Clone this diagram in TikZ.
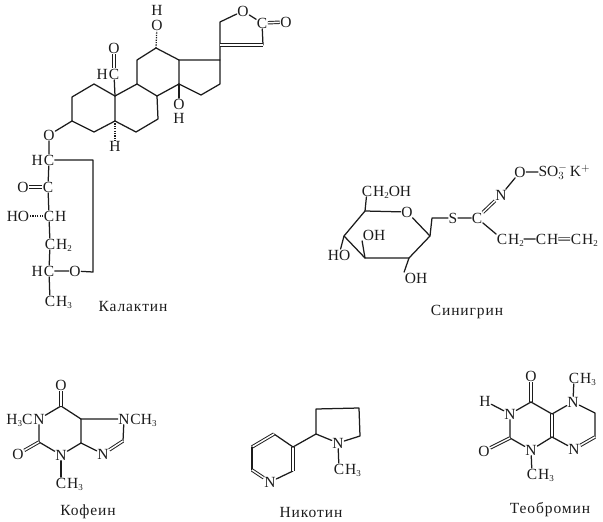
\documentclass[tikz,border=0pt]{standalone}
\usepackage{fontspec}
\setmainfont{Liberation Serif}
\newcommand{\low}[1]{\raisebox{-0.3ex}[0pt][0pt]{\fontsize{9}{9}\selectfont #1}}
\tikzset{
  bond/.style={draw=ink,line width=1.25pt,line join=round,line cap=round},
  dbl/.style={draw=ink,line width=.95pt,double=white,double distance=1.5pt},
  hash/.style={draw=ink,line width=1.3pt,dash pattern=on 1.2pt off 1.2pt},
  atom/.style={text=ink,inner sep=.5pt,font=\fontsize{15.5}{16}\selectfont},
  tail/.style={atom,anchor=base west,inner xsep=0pt},
  head/.style={atom,anchor=base east,inner xsep=0pt},
  caption/.style={text=ink,inner sep=0pt,font=\fontsize{15.5}{16}\selectfont\addfontfeatures{LetterSpace=6}}
}
\definecolor{ink}{HTML}{1C1C1C}
\begin{document}
\begin{tikzpicture}[x=1pt,y=-1pt]
\useasboundingbox (0,0) rectangle (603,522);
%% ---------- Kalaktin
\foreach \n/\x/\y in {a1/72/97,a2/94/84,c10/115/96,c5/115/121,a3/94/132,c3/72/121,
 c9/137/84,c8/157/96,c7/158/119,c6/136/132,c11/137/60,c12/156/48,c13/179/60,c14/179/84,
 c17/220/60,c16/220/84,c15/201/95,l1/220/45,l2/220/22,l3/263/45,cr/93/160,cs/93/272}
 {\coordinate (\n) at (\x,\y);}
\node[atom] (lo) at (243,11) {O};
\node[atom] (lc) at (262,23) {C};
\node[atom] (lox) at (286,22) {O};
\node[atom] (oh1) at (157,25) {O};
\node[atom] (h1) at (157,10.5) {H};
\node[atom] (cho) at (114,74) {C};
\node[head] (chh) at (cho.base west) {H};
\node[atom] (choo) at (114,48) {O};
\node[atom] (oh2) at (179,104) {O};
\node[atom] (h2) at (179,118.5) {H};
\node[atom] (h5) at (115,146) {H};
\node[atom] (o3) at (49,135) {O};
\node[atom] (s1) at (49,160) {C};
\node[head] (s1h) at (s1.base west) {H};
\node[atom] (s2) at (48,187) {C};
\node[atom] (s2o) at (23,187) {O};
\node[atom] (s3) at (49,216) {C};
\node[tail] (s3h) at (s3.base east) {H};
\node[atom] (s3o) at (18,216) {HO};
\node[atom] (s4) at (50,244) {C};
\node[tail] (s4h) at (s4.base east) {H\low{2}};
\node[atom] (s5) at (49,271) {C};
\node[head] (s5h) at (s5.base west) {H};
\node[atom] (s5o) at (75,271) {O};
\node[atom] (s6) at (50,301) {C};
\node[tail] (s6h) at (s6.base east) {H\low{3}};
\node[caption] (kal) at (133,306) {Калактин};
\draw[bond] (a1)--(a2)--(c10)--(c5)--(a3)--(c3)--cycle;
\draw[bond] (c10)--(c9)--(c8)--(c7)--(c6)--(c5);
\draw[bond] (c9)--(c11)--(c12)--(c13)--(c14)--(c8);
\draw[bond] (c13)--(c17)--(c16)--(c15)--(c14);
\draw[bond] (c17)--(l1)--(l2)--(lo)--(lc)--(l3);
\draw[dbl] (l1)--(l3);
\draw[dbl] (lc)--(lox);
\draw[hash] (c12)--(oh1);
\draw[bond] (c10)--(cho);
\draw[dbl] (cho)--(choo);
\draw[bond] (c14)--(oh2);
\draw[hash] (c5)--(h5);
\draw[bond] (c3)--(o3)--(s1)--(s2)--(s3)--(s4)--(s5)--(s6);
\draw[dbl] (s2)--(s2o);
\draw[hash] (s3)--(s3o);
\draw[bond] (s5)--(s5o)--(cs)--(cr)--(s1);
%% ---------- Sinigrin
\foreach \n/\x/\y in {g5/365/211,g1/430/236,g2/409/258,g3/365/258,g4/344/236,g6/432/218}
 {\coordinate (\n) at (\x,\y);}
\node[atom] (go) at (407,212) {O};
\node[atom] (g7) at (367,191) {C};
\node[tail] (g7t) at (g7.base east) {H\low{2}OH};
\node[atom] (goh3) at (374,235) {OH};
\node[atom] (goh4) at (339,255) {HO};
\node[atom] (goh2) at (416,278) {OH};
\node[atom] (gs) at (453,218) {S};
\node[atom] (gc) at (477,218) {C};
\node[atom] (gn) at (501,195) {N};
\node[atom] (go2) at (520,172) {O};
\node[atom] (gso) at (553,172) {SO$_{3}^{-}$};
\node[atom] (gk) at (580,171) {K$^{+}$};
\node[atom] (ga1) at (502,239) {C};
\node[tail] (ga1t) at (ga1.base east) {H\low{2}};
\node[atom] (ga2) at (541,239) {C};
\node[tail] (ga2t) at (ga2.base east) {H};
\node[atom] (ga3) at (576,239) {C};
\node[tail] (ga3t) at (ga3.base east) {H\low{2}};
\node[caption] (sin) at (467,312) {Синигрин};
\draw[bond] (g5)--(go)--(g1)--(g2)--(g3)--(g4)--(g5);
\draw[bond] (g5)--(g7);
\draw[bond] (g3)--(goh3.south west);
\draw[bond] (g4)--(goh4);
\draw[bond] (g2)--(goh2.north west);
\draw[bond] (g1)--(g6)--(gs)--(gc);
\draw[dbl] (gc)--(gn);
\draw[bond] (gn)--(go2)--(gso);
\draw[bond] (gc)--(ga1);
\draw[bond] (ga1t)--(ga2);
\draw[dbl] (ga2t)--(ga3);
%% ---------- Caffeine
\foreach \n/\x/\y in {k6/61/406,k5/81/419,k4/81/443,k2/39/442,k8/123/441}
 {\coordinate (\n) at (\x,\y);}
\node[atom] (kox) at (61,385) {O};
\node[atom] (kn3) at (61,455) {N};
\node[atom] (kn1) at (39,419) {N};
\node[head] (kn1h) at (kn1.base west) {H\low{3}C};
\node[atom] (kox2) at (18,454) {O};
\node[atom] (kn7) at (124,419) {N};
\node[tail] (kn7t) at (kn7.base east) {CH\low{3}};
\node[atom] (kn9) at (103,454) {N};
\node[atom] (kme) at (61,483) {C};
\node[tail] (kmet) at (kme.base east) {H\low{3}};
\node[caption] (kof) at (88,512) {Кофеин};
\draw[bond] (k6)--(k5)--(k4)--(kn3)--(k2)--(kn1)--(k6);
\draw[bond] (k5)--(kn7)--(k8);
\draw[dbl] (k8)--(kn9);
\draw[bond] (kn9)--(k4);
\draw[dbl] (k6)--(kox);
\draw[dbl] (k2)--(kox2);
\draw[bond] (kn3)--(kme);
%% ---------- Nicotine
\foreach \n/\x/\y in {p1/293/471,p2/293/447,p3/274/434,p4/252/447,p5/252/470,q1/316/434,q2/316/409,q3/359/408,q4/360/436}
 {\coordinate (\n) at (\x,\y);}
\node[atom] (pn) at (270,482) {N};
\node[atom] (qn) at (338,443) {N};
\node[atom] (qme) at (339,469) {C};
\node[tail] (qmet) at (qme.base east) {H\low{3}};
\node[caption] (nik) at (311,512) {Никотин};
\draw[bond] (pn)--(p1);
\draw[dbl] (p1)--(p2);
\draw[bond] (p2)--(p3);
\draw[dbl] (p3)--(p4);
\draw[bond] (p4)--(p5);
\draw[dbl] (p5)--(pn);
\draw[bond] (p2)--(q1)--(q2)--(q3)--(q4)--(qn)--(q1);
\draw[bond] (qn)--(qme);
%% ---------- Theobromine
\foreach \n/\x/\y in {t1/531/402,t2/552/414,t3/552/437,t4/510/438,t5/595/413,t6/595/437}
 {\coordinate (\n) at (\x,\y);}
\node[atom] (tox) at (531,376) {O};
\node[atom] (tn1) at (573,402) {N};
\node[atom] (tme1) at (574,378) {C};
\node[tail] (tme1t) at (tme1.base east) {H\low{3}};
\node[atom] (tn2) at (574,449) {N};
\node[atom] (tn3) at (531,450) {N};
\node[atom] (tn4) at (510,414) {N};
\node[atom] (th) at (485,401) {H};
\node[atom] (tox2) at (484,451) {O};
\node[atom] (tme2) at (532,474) {C};
\node[tail] (tme2t) at (tme2.base east) {H\low{3}};
\node[caption] (teo) at (550,510) {Теобромин};
\draw[dbl] (t1)--(tox);
\draw[bond] (t1)--(t2);
\draw[dbl] (t2)--(t3);
\draw[bond] (t2)--(tn1)--(t5)--(t6);
\draw[dbl] (t6)--(tn2);
\draw[bond] (tn2)--(t3)--(tn3)--(t4)--(tn4)--(t1);
\draw[bond] (tn4)--(th);
\draw[dbl] (t4)--(tox2);
\draw[bond] (tn1)--(tme1);
\draw[bond] (tn3)--(tme2);
\end{tikzpicture}
\end{document}
